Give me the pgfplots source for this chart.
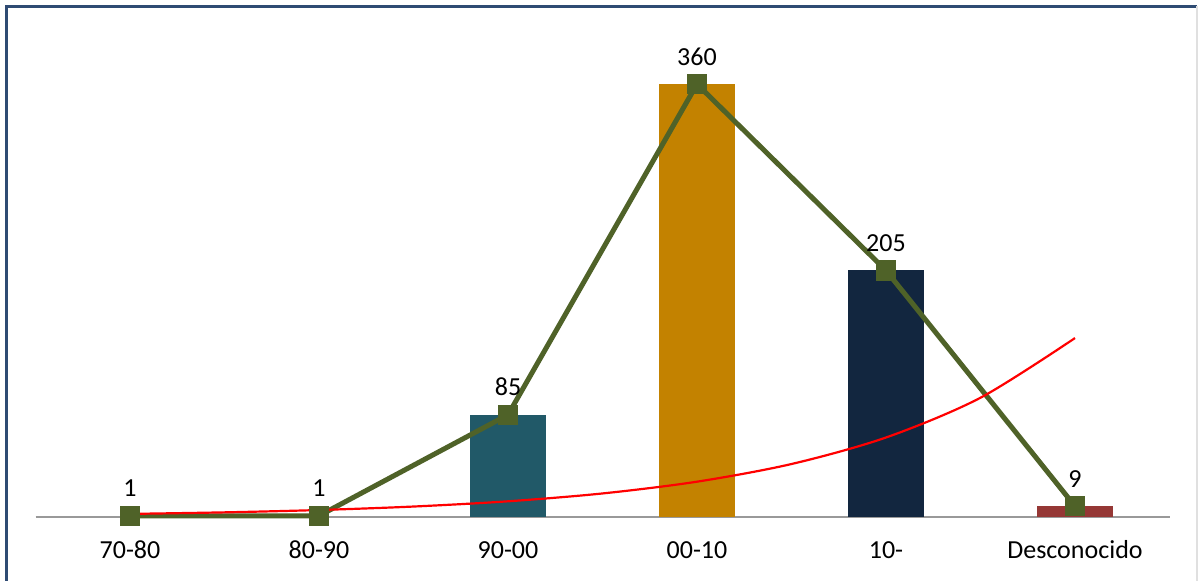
\documentclass[border=0pt]{standalone}
\usepackage{fontspec}
\setmainfont{Carlito}
\usepackage{pgfplots}
\usepackage{pgfplotstable}
\pgfplotsset{compat=1.18}

\definecolor{framecol}{HTML}{2F4B73}
\definecolor{barteal}{HTML}{215968}
\definecolor{bargold}{HTML}{C38200}
\definecolor{barnavy}{HTML}{12263F}
\definecolor{barred}{HTML}{953735}
\definecolor{barflat}{HTML}{999999}
\definecolor{linegreen}{HTML}{4F6228}

% Publications per period
\pgfplotstableread{
x y
0 1
1 1
2 85
3 360
4 205
5 9
}\periodos

% Exponential trend, y = exp(0.946 + 0.8113 x)
\pgfplotstableread{
x y
0 2.58
0.5 3.86
1 5.80
1.5 8.70
2 13.05
2.5 19.58
3 29.37
3.5 44.06
4 66.11
4.5 99.19
5 148.8
}\tendencia

\begin{document}
\begin{tikzpicture}
\path[use as bounding box] (0,0) rectangle (599.5bp,290.5bp);
\fill[white] (0,0) rectangle (599.5bp,290.5bp);
\draw[framecol, line width=1.3bp] (3.3bp,0) -- (3.3bp,287.3bp) -- (598.5bp,287.3bp);
\draw[black!12, line width=1bp] (598.5bp,287.3bp) -- (598.5bp,0);

\begin{axis}[
  at={(17.75bp,32bp)}, anchor=south west,
  scale only axis, width=567bp, height=240.5bp,
  xmin=-0.5, xmax=5.5, ymin=0, ymax=400,
  clip=false,
  axis x line*=bottom, axis y line=none,
  x axis line style={draw=black!40, line width=0.8bp, -},
  xtick={0,1,2,3,4,5},
  xticklabels={70-80,80-90,90-00,00-10,10-,Desconocido},
  major tick length=0pt,
  xticklabel style={anchor=base, yshift=-20.5bp, font=\fontsize{13bp}{15bp}\selectfont},
  /pgf/number format/assume math mode=true,
]
\addplot[ybar, bar width=38bp, bar shift=0pt, fill=barflat, draw=none] coordinates {(0,1)};
\addplot[ybar, bar width=38bp, bar shift=0pt, fill=barflat, draw=none] coordinates {(1,1)};
\addplot[ybar, bar width=38bp, bar shift=0pt, fill=barteal, draw=none] coordinates {(2,85)};
\addplot[ybar, bar width=38bp, bar shift=0pt, fill=bargold, draw=none] coordinates {(3,360)};
\addplot[ybar, bar width=38bp, bar shift=0pt, fill=barnavy, draw=none] coordinates {(4,205)};
\addplot[ybar, bar width=38bp, bar shift=0pt, fill=barred, draw=none] coordinates {(5,9)};

\addplot[linegreen, line width=2.5bp, mark=square*, mark size=4.8bp,
  mark options={solid, fill=linegreen, draw=linegreen, line width=0pt},
  nodes near coords,
  every node near coord/.append style={text=black, anchor=base, yshift=9.5bp,
    font=\fontsize{13bp}{15bp}\selectfont}]
  table[x=x, y=y] {\periodos};

\addplot[red, line width=1.1bp, smooth, no marks] table[x=x, y=y] {\tendencia};
\end{axis}
\end{tikzpicture}
\end{document}
